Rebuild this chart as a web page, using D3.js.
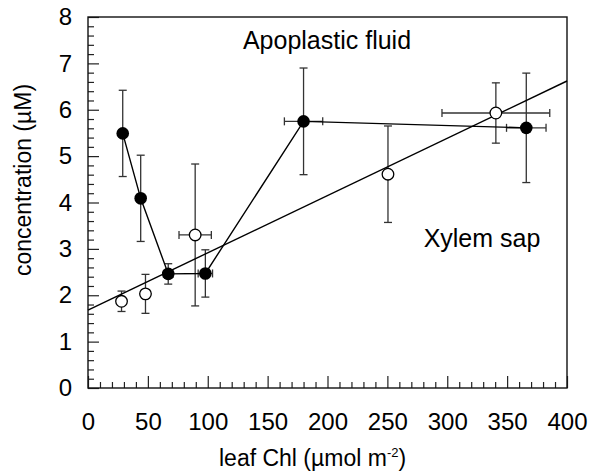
<!DOCTYPE html>
<html>
<head>
<meta charset="utf-8">
<script src="https://cdn.jsdelivr.net/npm/d3@7"></script>
<style>
  body { margin: 0; background: #fff; }
  svg { display: block; font-family: "Liberation Sans", Arial, sans-serif; }
</style>
</head>
<body>
<svg id="container" width="592" height="474"></svg>
<script>
// apoplastic fluid (filled circles, joined)
const apoX = [29, 44, 67, 98, 180, 366];
const apoY = [5.49, 4.09, 2.46, 2.47, 5.75, 5.61];
const apoYErr = [0.93, 0.93, 0.22, 0.51, 1.15, 1.18];
const apoXErr = [0, 0, 4, 6, 16, 16.5];

// xylem sap (open circles, regression line)
const xylX = [28, 48, 89.5, 250.5, 340.6];
const xylY = [1.87, 2.03, 3.30, 4.61, 5.93];
const xylYErr = [0.22, 0.42, 1.53, 1.04, 0.65];
const xylXErr = [0, 3, 13.5, 0, 45];

// fitted line endpoints
const fitX = [0, 400];
const fitY = [1.68, 6.62];

const xMajor = [0, 50, 100, 150, 200, 250, 300, 350, 400];
const yMajor = [0, 1, 2, 3, 4, 5, 6, 7, 8];

const svg = d3.select('#container');
const margin = { top: 17, right: 25, bottom: 86, left: 88 };
const width = 592 - margin.left - margin.right;
const height = 474 - margin.top - margin.bottom;

const x = d3.scaleLinear().domain([0, 400]).range([0, width]);
const y = d3.scaleLinear().domain([0, 8]).range([height, 0]);

const g = svg.append('g')
    .attr('transform', 'translate(' + margin.left + ',' + margin.top + ')');

// minor ticks
const xMinor = d3.range(0, 401, 10).filter(v => v % 50 !== 0);
const yMinor = d3.range(0, 41).map(v => v / 5).filter(v => v % 1 !== 0);

g.append('g')
    .attr('transform', 'translate(0,' + height + ')')
    .call(d3.axisBottom(x).tickValues(xMinor).tickSize(-6).tickFormat(''))
    .call(a => a.select('.domain').remove());
g.append('g')
    .call(d3.axisLeft(y).tickValues(yMinor).tickSize(-6).tickFormat(''))
    .call(a => a.select('.domain').remove());

const xAxis = g.append('g')
    .attr('transform', 'translate(0,' + height + ')')
    .call(d3.axisBottom(x).tickValues(xMajor).tickSize(-12).tickPadding(25).tickFormat(d3.format('d')));
xAxis.select('.domain').remove();
xAxis.selectAll('text').attr('font-size', 24).attr('fill', '#000').attr('font-family', null);

const yAxis = g.append('g')
    .call(d3.axisLeft(y).tickValues(yMajor).tickSize(-11).tickPadding(16).tickFormat(d3.format('d')));
yAxis.select('.domain').remove();
yAxis.selectAll('text').attr('font-size', 24).attr('fill', '#000').attr('font-family', null);

svg.selectAll('.tick line').attr('stroke', '#222').attr('stroke-width', 1.2);

// frame
g.append('rect')
    .attr('width', width).attr('height', height)
    .attr('fill', 'none').attr('stroke', '#111').attr('stroke-width', 1.4);

function errorBars(xs, ys, xe, ye) {
    const eb = g.append('g').attr('stroke', '#333').attr('stroke-width', 1.3).attr('fill', 'none');
    const cap = 4;
    xs.forEach((xv, i) => {
        const cx = x(xv), cy = y(ys[i]);
        if (ye[i] > 0) {
            const y1 = y(ys[i] + ye[i]), y2 = y(ys[i] - ye[i]);
            eb.append('line').attr('x1', cx).attr('x2', cx).attr('y1', y1).attr('y2', y2);
            eb.append('line').attr('x1', cx - cap).attr('x2', cx + cap).attr('y1', y1).attr('y2', y1);
            eb.append('line').attr('x1', cx - cap).attr('x2', cx + cap).attr('y1', y2).attr('y2', y2);
        }
        if (xe[i] > 0) {
            const x1 = x(xv - xe[i]), x2 = x(xv + xe[i]);
            eb.append('line').attr('x1', x1).attr('x2', x2).attr('y1', cy).attr('y2', cy);
            eb.append('line').attr('x1', x1).attr('x2', x1).attr('y1', cy - cap).attr('y2', cy + cap);
            eb.append('line').attr('x1', x2).attr('x2', x2).attr('y1', cy - cap).attr('y2', cy + cap);
        }
    });
}

errorBars(apoX, apoY, apoXErr, apoYErr);
errorBars(xylX, xylY, xylXErr, xylYErr);

// regression line
g.append('line')
    .attr('x1', x(fitX[0])).attr('y1', y(fitY[0]))
    .attr('x2', x(fitX[1])).attr('y2', y(fitY[1]))
    .attr('stroke', '#000').attr('stroke-width', 1.4);

// apoplastic connecting line
const line = d3.line().x(d => x(d[0])).y(d => y(d[1]));
g.append('path')
    .datum(apoX.map((v, i) => [v, apoY[i]]))
    .attr('d', line)
    .attr('fill', 'none').attr('stroke', '#000').attr('stroke-width', 1.4);

g.selectAll('.xyl')
    .data(xylX.map((v, i) => [v, xylY[i]]))
    .join('circle')
    .attr('class', 'xyl')
    .attr('cx', d => x(d[0])).attr('cy', d => y(d[1])).attr('r', 5.8)
    .attr('fill', '#fff').attr('stroke', '#000').attr('stroke-width', 1.3);

g.selectAll('.apo')
    .data(apoX.map((v, i) => [v, apoY[i]]))
    .join('circle')
    .attr('class', 'apo')
    .attr('cx', d => x(d[0])).attr('cy', d => y(d[1])).attr('r', 6.3)
    .attr('fill', '#000');

// labels
svg.append('text')
    .attr('x', 327).attr('y', 49)
    .attr('text-anchor', 'middle').attr('font-size', 25)
    .text('Apoplastic fluid');
svg.append('text')
    .attr('x', 482).attr('y', 247)
    .attr('text-anchor', 'middle').attr('font-size', 25)
    .text('Xylem sap');

const xt = svg.append('text')
    .attr('x', 219).attr('y', 466)
    .attr('font-size', 23);
xt.append('tspan').text('leaf Chl (\u00b5mol m');
xt.append('tspan').attr('font-size', 13).attr('dy', -9).text('-2');
xt.append('tspan').attr('dy', 9).text(')');

svg.append('text')
    .attr('transform', 'translate(31,180) rotate(-90)')
    .attr('text-anchor', 'middle').attr('font-size', 23)
    .text('concentration (\u00b5M)');
</script>
</body>
</html>
